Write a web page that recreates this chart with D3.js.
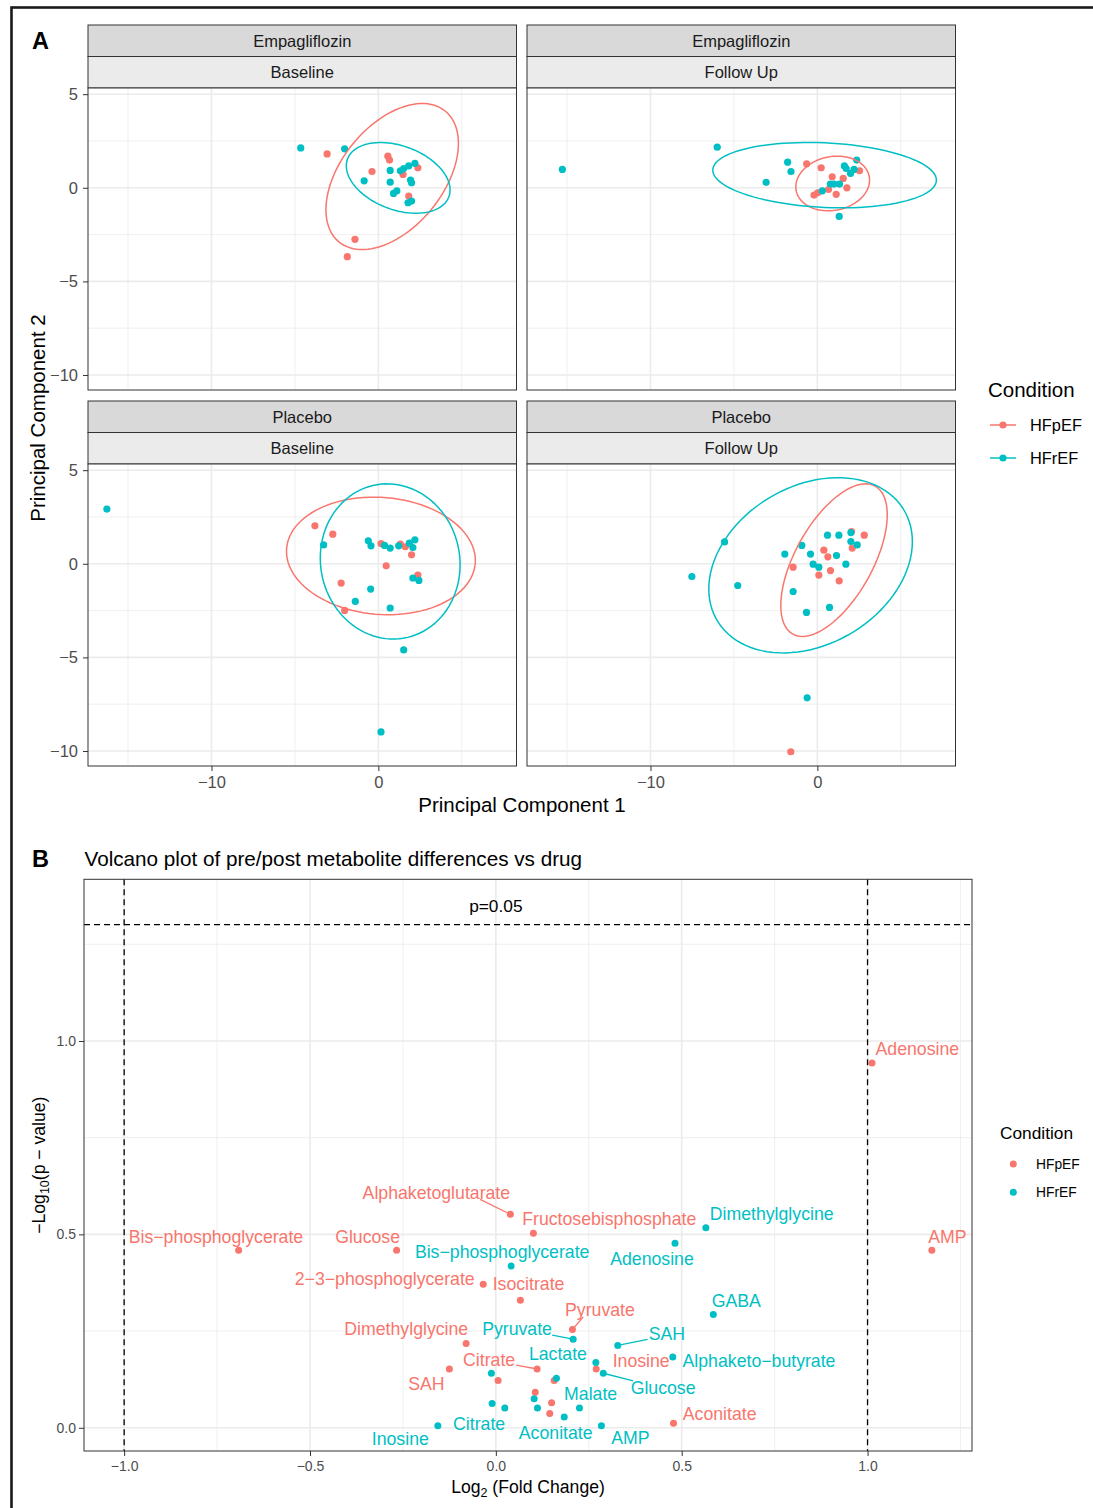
<!DOCTYPE html>
<html>
<head>
<meta charset="utf-8">
<title>PCA and volcano plot</title>
<script src="https://cdn.jsdelivr.net/npm/d3@7"></script>
<style>
  body { margin: 0; background: #fff; }
  svg text { font-family: "Liberation Sans", Arial, Helvetica, sans-serif; }
</style>
</head>
<body>
<svg id="chart" width="1093" height="1508"></svg>
<script>
// ---------- colours per condition ----------
const conditions = ["HFpEF", "HFrEF"];
const colors = ["#F8766D", "#00BFC4"];

// ---------- Panel A: facets ----------
const drugs  = ["Empagliflozin", "Empagliflozin", "Placebo", "Placebo"];
const visits = ["Baseline", "Follow Up", "Baseline", "Follow Up"];

// PC1, PC2 scores
const empaBaseHFpEF = [[-3.07,1.81],[-0.38,0.87],[0.57,1.69],[0.67,1.48],[1.48,0.71],[2.37,1.07],[1.82,-0.44],[-1.40,-2.75],[-1.86,-3.68]];
const empaBaseHFrEF = [[-4.65,2.13],[-2.02,2.08],[-0.85,0.37],[0.71,0.93],[0.71,0.30],[1.11,-0.16],[0.91,-0.30],[1.32,0.91],[1.52,1.03],[1.82,1.17],[2.19,1.30],[1.93,0.41],[1.99,0.27],[1.78,-0.80],[1.99,-0.71]];
const empaFollowHFpEF = [[-0.64,1.28],[0.23,1.07],[0.89,0.59],[1.55,0.50],[0.67,-0.09],[-0.20,-0.39],[0.02,-0.27],[1.13,-0.35],[1.77,0.00],[2.53,0.91]];
const empaFollowHFrEF = [[-15.28,0.98],[-6.00,2.17],[-1.78,1.37],[-1.58,0.87],[-3.07,0.29],[0.30,-0.16],[0.78,0.20],[1.00,0.20],[1.33,0.20],[1.31,-1.53],[1.62,1.17],[1.73,1.03],[1.99,0.77],[2.20,0.98],[2.36,1.48]];
const placeboBaseHFpEF = [[-3.80,2.03],[-2.73,1.58],[0.16,1.08],[1.32,1.05],[1.62,0.91],[1.99,0.48],[0.47,-0.11],[2.37,-0.60],[-2.23,-1.03],[-2.02,-2.49]];
const placeboBaseHFrEF = [[-16.27,2.92],[-3.28,1.01],[-0.60,1.23],[-0.44,0.96],[0.37,0.98],[0.71,0.84],[1.22,0.96],[1.86,1.10],[2.19,1.28],[2.07,0.87],[2.07,-0.76],[2.43,-0.89],[-0.46,-1.35],[-1.38,-2.01],[0.71,-2.36],[1.52,-4.60],[0.16,-8.98]];
const placeboFollowHFpEF = [[2.05,1.72],[2.81,1.53],[2.09,0.84],[0.39,0.73],[0.63,0.37],[-1.45,-0.18],[0.09,-0.60],[0.79,-0.36],[1.31,-0.91],[-1.59,-10.04]];
const placeboFollowHFrEF = [[-7.52,-0.68],[-5.56,1.17],[-4.77,-1.16],[-1.95,0.52],[-0.93,0.98],[-0.41,0.52],[-0.25,-0.02],[0.09,-0.18],[0.61,1.53],[1.29,1.53],[1.15,0.44],[1.71,-0.02],[2.01,1.67],[2.01,1.19],[2.39,1.01],[-1.45,-1.48],[-0.65,-2.60],[0.73,-2.33],[-0.61,-7.16]];

const pointsHFpEF = [empaBaseHFpEF, empaFollowHFpEF, placeboBaseHFpEF, placeboFollowHFpEF];
const pointsHFrEF = [empaBaseHFrEF, empaFollowHFrEF, placeboBaseHFrEF, placeboFollowHFrEF];

// 95% ellipses per facet: centre x, centre y, sd x, sd y, correlation
const ellipseHFpEF = [[0.83,0.60,3.97,3.90,0.454],[0.92,0.23,2.21,1.46,0.124],[0.155,0.42,5.66,3.14,-0.077],[1.00,0.195,3.19,4.075,0.594]];
const ellipseHFrEF = [[1.19,0.53,3.11,1.89,-0.34],[0.435,0.675,6.70,1.745,-0.152],[0.71,0.125,4.19,4.145,-0.043],[-0.405,-0.08,6.10,4.68,0.27]];

const pcBreaksX = [-10, 0], pcMinorX = [-15, -5, 5];
const pcBreaksY = [5, 0, -5, -10], pcMinorY = [2.5, -2.5, -7.5];

// ---------- Panel B: volcano ----------
const namesHFpEF = ["Adenosine","AMP","Bis\u2212phosphoglycerate","Glucose","Alphaketoglutarate","Fructosebisphosphate","2\u22123\u2212phosphoglycerate","Isocitrate","Pyruvate","Dimethylglycine","Citrate","SAH","Inosine","Aconitate",null,null,null,null,null];
const fcHFpEF = [1.012,1.173,-0.692,-0.267,0.039,0.101,-0.034,0.066,0.206,-0.080,0.111,-0.125,0.270,0.478,0.006,0.157,0.106,0.150,0.145];
const pHFpEF  = [0.943,0.459,0.459,0.459,0.552,0.503,0.371,0.330,0.254,0.218,0.152,0.152,0.152,0.012,0.122,0.122,0.092,0.065,0.037];
const labelXHFpEF = [1.134,1.215,-0.753,-0.345,-0.160,0.305,-0.299,0.088,0.280,-0.241,-0.018,-0.187,0.391,0.602];
const labelYHFpEF = [0.979,0.494,0.494,0.494,0.608,0.539,0.385,0.372,0.304,0.255,0.177,0.115,0.172,0.037];
const linkedHFpEF = ["Alphaketoglutarate","Pyruvate","Citrate"];

const namesHFrEF = ["Dimethylglycine","Adenosine","Bis\u2212phosphoglycerate","GABA","Pyruvate","SAH","Alphaketo\u2212butyrate","Lactate","Glucose","Malate","Citrate","Aconitate","AMP","Inosine",null,null,null,null,null];
const fcHFrEF = [0.565,0.482,0.041,0.585,0.208,0.328,0.476,0.269,0.289,0.225,-0.010,0.184,0.284,-0.156,-0.012,0.163,0.103,0.024,0.112];
const pHFrEF  = [0.517,0.477,0.418,0.293,0.229,0.213,0.183,0.169,0.141,0.051,0.063,0.028,0.005,0.005,0.141,0.128,0.075,0.051,0.051];
const labelXHFrEF = [0.742,0.420,0.017,0.647,0.057,0.460,0.708,0.167,0.450,0.255,-0.045,0.161,0.362,-0.257];
const labelYHFrEF = [0.554,0.436,0.454,0.328,0.257,0.242,0.172,0.190,0.104,0.087,0.011,-0.012,-0.026,-0.028];
const linkedHFrEF = ["Pyruvate","SAH","Glucose"];

const fcBreaks = [-1, -0.5, 0, 0.5, 1], fcMinor = [-0.75, -0.25, 0.25, 0.75, 1.25];
const lpBreaks = [0, 0.5, 1], lpMinor = [0.25, 0.75, 1.25];
const fcCutoffs = [-1, 1];
const pCutoff = 0.05;

// ---------- drawing ----------
const svg = d3.select("#chart");
const W = 1093, H = 1508;

svg.append("rect").attr("width", W).attr("height", H).attr("fill", "#fff");
svg.append("rect")
    .attr("x", 11.5).attr("y", 7.5).attr("width", 1100).attr("height", 1520)
    .attr("fill", "none").attr("stroke", "#1a1a1a").attr("stroke-width", 2.6);

function styleAxis(sel, size) {
  sel.select(".domain").remove();
  sel.selectAll(".tick line").attr("stroke", "#333").attr("stroke-width", 1);
  sel.selectAll(".tick text").attr("fill", "#4d4d4d").attr("font-size", size);
}

function gridLines(g, xs, ys, values, horizontal, width) {
  values.forEach(v => {
    if (horizontal) {
      g.append("line").attr("x1", xs.range()[0]).attr("x2", xs.range()[1])
        .attr("y1", ys(v)).attr("y2", ys(v));
    } else {
      g.append("line").attr("y1", ys.range()[0]).attr("y2", ys.range()[1])
        .attr("x1", xs(v)).attr("x2", xs(v));
    }
  });
  g.selectAll("line").attr("stroke", "#ebebeb").attr("stroke-width", width);
}

// panel A letter
svg.append("text").attr("x", 32).attr("y", 48.5).attr("font-size", 23.5)
    .attr("font-weight", "bold").attr("fill", "#000").text("A");

const colX = [88, 527], panelW = 428.5;
const rowY = [25, 401], stripH = 31.5, plotH = 302;

const pcX = d3.scaleLinear().domain([-17.4, 8.28]).range([0, panelW]);
const pcY = d3.scaleLinear().domain([-10.8, 5.33]).range([plotH, 0]);

function ellipsePath(e) {
  const [cx, cy, sx, sy, r] = e;
  const k = Math.sqrt(1 - r * r);
  const pts = d3.range(0, 101).map(i => {
    const t = i / 100 * 2 * Math.PI;
    return [pcX(cx + sx * Math.cos(t)), pcY(cy + sy * (r * Math.cos(t) + k * Math.sin(t)))];
  });
  return d3.line()(pts) + "Z";
}

drugs.forEach((drug, i) => {
  const col = i % 2, row = Math.floor(i / 2);
  const g = svg.append("g").attr("transform", `translate(${colX[col]},${rowY[row]})`);

  // strips
  g.append("rect").attr("width", panelW).attr("height", stripH)
    .attr("fill", "#d9d9d9").attr("stroke", "#333").attr("stroke-width", 1);
  g.append("text").attr("x", panelW / 2).attr("y", stripH / 2).attr("dy", "0.35em")
    .attr("text-anchor", "middle").attr("font-size", 16.5).attr("fill", "#1a1a1a").text(drug);
  g.append("rect").attr("y", stripH).attr("width", panelW).attr("height", stripH)
    .attr("fill", "#ebebeb").attr("stroke", "#333").attr("stroke-width", 1);
  g.append("text").attr("x", panelW / 2).attr("y", stripH * 1.5).attr("dy", "0.35em")
    .attr("text-anchor", "middle").attr("font-size", 16.5).attr("fill", "#1a1a1a").text(visits[i]);

  const p = g.append("g").attr("transform", `translate(0,${2 * stripH})`);
  p.append("rect").attr("width", panelW).attr("height", plotH).attr("fill", "#fff");

  gridLines(p.append("g"), pcX, pcY, pcMinorX, false, 0.8);
  gridLines(p.append("g"), pcX, pcY, pcMinorY, true, 0.8);
  gridLines(p.append("g"), pcX, pcY, pcBreaksX, false, 1.6);
  gridLines(p.append("g"), pcX, pcY, pcBreaksY, true, 1.6);

  [pointsHFpEF[i], pointsHFrEF[i]].forEach((pts, c) => {
    p.append("g").selectAll("circle").data(pts).join("circle")
      .attr("cx", d => pcX(d[0])).attr("cy", d => pcY(d[1]))
      .attr("r", 3.6).attr("fill", colors[c]);
  });
  [ellipseHFpEF[i], ellipseHFrEF[i]].forEach((e, c) => {
    p.append("path").attr("d", ellipsePath(e)).attr("fill", "none")
      .attr("stroke", colors[c]).attr("stroke-width", 1.5);
  });

  p.append("rect").attr("width", panelW).attr("height", plotH)
    .attr("fill", "none").attr("stroke", "#333").attr("stroke-width", 1);

  if (col === 0) {
    p.append("g").call(d3.axisLeft(pcY).tickValues(pcBreaksY).tickSize(5).tickPadding(5))
      .call(styleAxis, 16.5);
  }
  if (row === 1) {
    p.append("g").attr("transform", `translate(0,${plotH})`)
      .call(d3.axisBottom(pcX).tickValues(pcBreaksX).tickSize(5).tickPadding(5))
      .call(styleAxis, 16.5);
  }
});

svg.append("text").attr("x", 522).attr("y", 811.5).attr("text-anchor", "middle")
    .attr("font-size", 20.5).attr("fill", "#000").text("Principal Component 1");
svg.append("text").attr("transform", "translate(45,418) rotate(-90)").attr("text-anchor", "middle")
    .attr("font-size", 20.5).attr("fill", "#000").text("Principal Component 2");

// legend A
svg.append("text").attr("x", 988).attr("y", 397).attr("font-size", 20.5).attr("fill", "#000").text("Condition");
conditions.forEach((c, k) => {
  const y = 425 + k * 33;
  svg.append("line").attr("x1", 990).attr("x2", 1016).attr("y1", y).attr("y2", y)
    .attr("stroke", colors[k]).attr("stroke-width", 1.5);
  svg.append("circle").attr("cx", 1003).attr("cy", y).attr("r", 3.6).attr("fill", colors[k]);
  svg.append("text").attr("x", 1030).attr("y", y).attr("dy", "0.35em")
    .attr("font-size", 16.4).attr("fill", "#000").text(c);
});

// ---------- Panel B ----------
svg.append("text").attr("x", 32).attr("y", 867).attr("font-size", 23.5)
    .attr("font-weight", "bold").attr("fill", "#000").text("B");
svg.append("text").attr("x", 84.5).attr("y", 866).attr("font-size", 20.7)
    .attr("fill", "#000").text("Volcano plot of pre/post metabolite differences vs drug");

const bx0 = 84, bx1 = 972, by0 = 879.3, by1 = 1451;
const fcX = d3.scaleLinear().domain([-1.108, 1.281]).range([bx0, bx1]);
const lpY = d3.scaleLinear().domain([-0.06, 1.418]).range([by1, by0]);

const b = svg.append("g");
b.append("rect").attr("x", bx0).attr("y", by0).attr("width", bx1 - bx0).attr("height", by1 - by0).attr("fill", "#fff");
gridLines(b.append("g"), fcX, lpY, fcMinor, false, 0.8);
gridLines(b.append("g"), fcX, lpY, lpMinor, true, 0.8);
gridLines(b.append("g"), fcX, lpY, fcBreaks, false, 1.6);
gridLines(b.append("g"), fcX, lpY, lpBreaks, true, 1.6);

const vol = [
  {names: namesHFpEF, fc: fcHFpEF, p: pHFpEF, lx: labelXHFpEF, ly: labelYHFpEF, linked: linkedHFpEF},
  {names: namesHFrEF, fc: fcHFrEF, p: pHFrEF, lx: labelXHFrEF, ly: labelYHFrEF, linked: linkedHFrEF}
];

vol.forEach((s, c) => {
  b.append("g").selectAll("circle").data(s.fc).join("circle")
    .attr("cx", d => fcX(d)).attr("cy", (d, j) => lpY(s.p[j]))
    .attr("r", 3.5).attr("fill", colors[c]);
});

// cut-off lines
fcCutoffs.forEach(v => {
  b.append("line").attr("x1", fcX(v)).attr("x2", fcX(v)).attr("y1", by0).attr("y2", by1)
    .attr("stroke", "#000").attr("stroke-width", 1.3).attr("stroke-dasharray", "6,4");
});
b.append("line").attr("x1", bx0).attr("x2", bx1)
  .attr("y1", lpY(-Math.log10(pCutoff))).attr("y2", lpY(-Math.log10(pCutoff)))
  .attr("stroke", "#000").attr("stroke-width", 1.3).attr("stroke-dasharray", "6,4");
b.append("text").attr("x", fcX(0)).attr("y", lpY(1.35)).attr("dy", "0.35em")
  .attr("text-anchor", "middle").attr("font-size", 17.3).attr("fill", "#000").text("p=" + pCutoff);

// labels and leader segments
const LABEL_SIZE = 17.7;
vol.forEach((s, c) => {
  s.lx.forEach((lx, j) => {
    const name = s.names[j];
    const tx = fcX(lx), ty = lpY(s.ly[j]);
    const t = b.append("text").attr("x", tx).attr("y", ty).attr("dy", "0.35em")
      .attr("text-anchor", "middle").attr("font-size", LABEL_SIZE).attr("fill", colors[c]).text(name);
    if (s.linked.includes(name)) {
      const hw = t.node().getComputedTextLength() / 2 + 1, hh = LABEL_SIZE * 0.38;
      const px = fcX(s.fc[j]), py = lpY(s.p[j]);
      // aim between the label centre and the box point nearest the dot
      const nx = Math.max(tx - hw, Math.min(tx + hw, px));
      const ny = Math.max(ty - hh, Math.min(ty + hh, py));
      const ax = (tx + nx) / 2, ay = (ty + ny) / 2;
      const dx = px - ax, dy = py - ay;
      // walk from the aim point toward the dot until leaving the box
      const kx = dx > 0 ? (tx + hw - ax) / dx : dx < 0 ? (tx - hw - ax) / dx : Infinity;
      const ky = dy > 0 ? (ty + hh - ay) / dy : dy < 0 ? (ty - hh - ay) / dy : Infinity;
      const k = Math.min(kx, ky);
      b.append("line").attr("x1", px).attr("y1", py).attr("x2", ax + dx * k).attr("y2", ay + dy * k)
        .attr("stroke", colors[c]).attr("stroke-width", 1.3);
    }
  });
});

b.append("rect").attr("x", bx0).attr("y", by0).attr("width", bx1 - bx0).attr("height", by1 - by0)
  .attr("fill", "none").attr("stroke", "#333").attr("stroke-width", 1);

b.append("g").attr("transform", `translate(${bx0},0)`)
  .call(d3.axisLeft(lpY).tickValues(lpBreaks).tickSize(5).tickPadding(3).tickFormat(d3.format(".1f")))
  .call(styleAxis, 14);
b.append("g").attr("transform", `translate(0,${by1})`)
  .call(d3.axisBottom(fcX).tickValues(fcBreaks).tickSize(5).tickPadding(5).tickFormat(d3.format(".1f")))
  .call(styleAxis, 14);

// axis titles with subscripts
const xt = svg.append("text").attr("x", (bx0 + bx1) / 2).attr("y", 1493).attr("text-anchor", "middle")
  .attr("font-size", 17.6).attr("fill", "#000");
xt.append("tspan").text("Log");
xt.append("tspan").attr("font-size", 12.5).attr("dy", 4).text("2");
xt.append("tspan").attr("dy", -4).text(" (Fold Change)");

const yt = svg.append("text").attr("transform", `translate(45,${(by0 + by1) / 2}) rotate(-90)`)
  .attr("text-anchor", "middle").attr("font-size", 17.6).attr("fill", "#000");
yt.append("tspan").text("\u2212Log");
yt.append("tspan").attr("font-size", 12.5).attr("dy", 4).text("10");
yt.append("tspan").attr("dy", -4).text("(p \u2212 value)");

// legend B
svg.append("text").attr("x", 1000).attr("y", 1139).attr("font-size", 17.3).attr("fill", "#000").text("Condition");
conditions.forEach((c, k) => {
  const y = 1164 + k * 28.3;
  svg.append("circle").attr("cx", 1013.3).attr("cy", y).attr("r", 3.5).attr("fill", colors[k]);
  svg.append("text").attr("x", 1036).attr("y", y).attr("dy", "0.35em")
    .attr("font-size", 13.8).attr("fill", "#000").text(c);
});
</script>
</body>
</html>
